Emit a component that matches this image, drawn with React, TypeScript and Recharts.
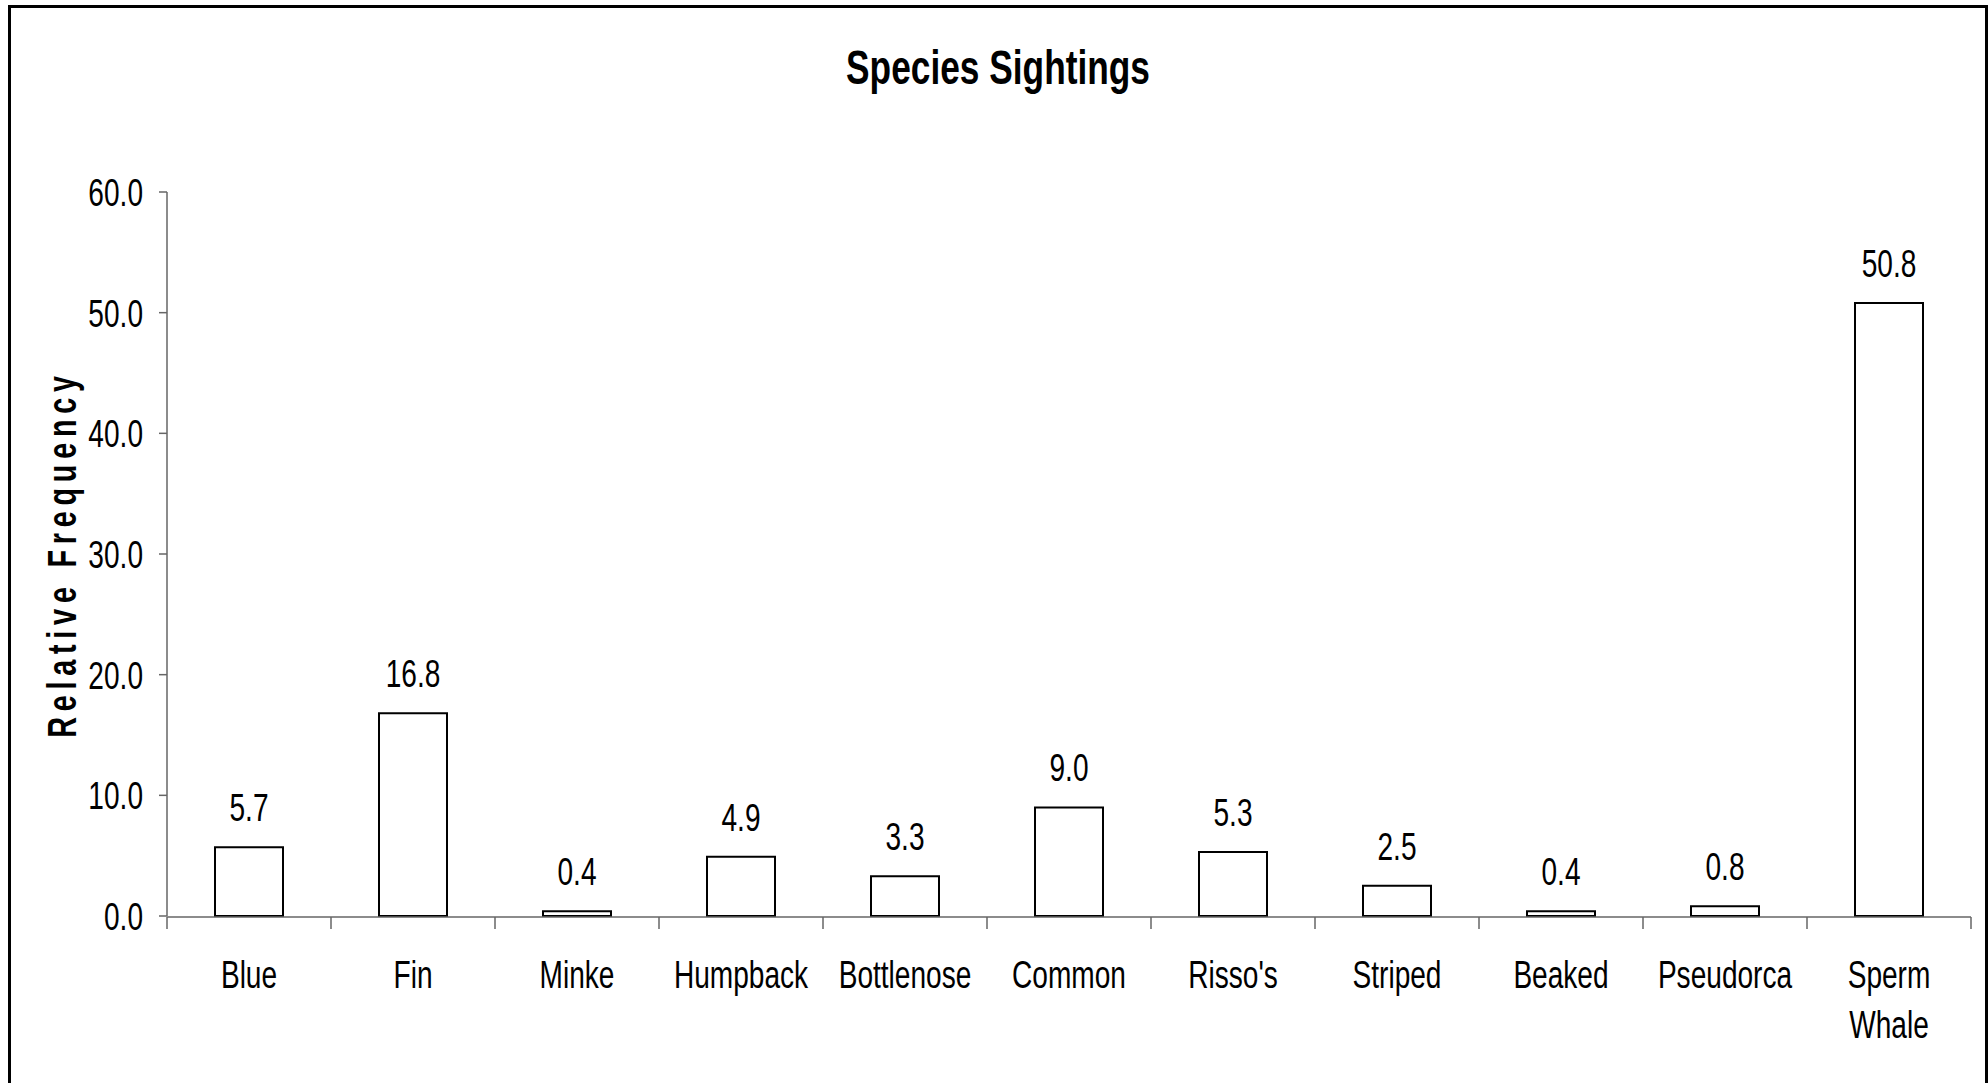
import { BarChart, Bar, XAxis, YAxis, LabelList } from 'recharts';

document.body.style.margin = '0';

const species = [
  'Blue',
  'Fin',
  'Minke',
  'Humpback',
  'Bottlenose',
  'Common',
  "Risso's",
  'Striped',
  'Beaked',
  'Pseudorca',
  'Sperm Whale',
];
const frequency = [5.7, 16.8, 0.4, 4.9, 3.3, 9.0, 5.3, 2.5, 0.4, 0.8, 50.8];
const yTicks = [0, 10, 20, 30, 40, 50, 60];

const data = species.map((name, i) => ({ name, value: frequency[i], slot: i }));
// category boundaries, where the excel-style tick marks sit
const edgeTicks = species.map((_, i) => i).concat(species.length);

const FONT = '"Liberation Sans", Arial, sans-serif';
const SQUEEZE = 0.72; // the original uses a narrow face
const AXIS = '#666';

function YTick({ x, y, payload }: any) {
  return (
    <text
      transform={`translate(${x},${y + 14}) scale(${SQUEEZE},1)`}
      textAnchor="end"
      fontFamily={FONT}
      fontSize={39}
      fill="#000"
    >
      {Number(payload.value).toFixed(1)}
    </text>
  );
}

function XTick({ x, y, payload }: any) {
  const lines = String(payload.value).split(' ');
  return (
    <text
      transform={`translate(${x},${y}) scale(${SQUEEZE},1)`}
      textAnchor="middle"
      fontFamily={FONT}
      fontSize={39}
      fill="#000"
    >
      {lines.map((line, i) => (
        <tspan key={i} x={0} dy={i === 0 ? 72 : 50}>
          {line}
        </tspan>
      ))}
    </text>
  );
}

function NoTick() {
  return null;
}

function ValueLabel({ x, y, width, value }: any) {
  return (
    <text
      transform={`translate(${x + width / 2},${y - 26}) scale(${SQUEEZE},1)`}
      textAnchor="middle"
      fontFamily={FONT}
      fontSize={39}
      fill="#000"
    >
      {Number(value).toFixed(1)}
    </text>
  );
}

function YLabel({ viewBox }: any) {
  const cx = viewBox.x + 76;
  const cy = viewBox.y + viewBox.height / 2;
  return (
    <text
      transform={`translate(${cx},${cy}) rotate(-90) scale(${SQUEEZE},1)`}
      textAnchor="middle"
      fontFamily={FONT}
      fontSize={40}
      fontWeight="bold"
      letterSpacing={8}
      fill="#000"
    >
      Relative Frequency
    </text>
  );
}

export default function App() {
  return (
    <div
      style={{
        position: 'relative',
        width: 1988,
        height: 1083,
        overflow: 'hidden',
        background: '#fff',
      }}
    >
      <div
        style={{
          position: 'absolute',
          left: 8,
          top: 5,
          width: 1980,
          height: 1200,
          border: '3px solid #000',
          boxSizing: 'border-box',
        }}
      />
      <div
        style={{
          position: 'absolute',
          left: 0,
          width: 1996,
          top: 43,
          textAlign: 'center',
          fontFamily: FONT,
          fontWeight: 'bold',
          fontSize: 49,
          lineHeight: 1,
        }}
      >
        <span style={{ display: 'inline-block', transform: `scaleX(${SQUEEZE})` }}>
          Species Sightings
        </span>
      </div>
      <div style={{ position: 'absolute', left: 0, top: 0 }}>
        <BarChart
          width={1988}
          height={1083}
          data={data}
          margin={{ top: 192, right: 17, bottom: 66, left: 0 }}
        >
          <XAxis
            xAxisId="cats"
            dataKey="name"
            height={1}
            interval={0}
            axisLine={false}
            tickLine={false}
            tickSize={0}
            tickMargin={0}
            tick={<XTick />}
          />
          <XAxis
            xAxisId="edges"
            type="number"
            dataKey="slot"
            domain={[0, species.length]}
            allowDataOverflow
            ticks={edgeTicks}
            interval={0}
            tick={<NoTick />}
            tickSize={12}
            height={100}
            axisLine={{ stroke: AXIS, strokeWidth: 1.5 }}
            tickLine={{ stroke: AXIS, strokeWidth: 1.5 }}
          />
          <YAxis
            width={167}
            domain={[0, 60]}
            ticks={yTicks}
            tickSize={8}
            tickMargin={16}
            tick={<YTick />}
            axisLine={{ stroke: AXIS, strokeWidth: 1.5 }}
            tickLine={{ stroke: AXIS, strokeWidth: 1.5 }}
            label={<YLabel />}
          />
          <Bar
            xAxisId="cats"
            dataKey="value"
            fill="#fff"
            stroke="#000"
            strokeWidth={2}
            barSize={68}
            isAnimationActive={false}
          >
            <LabelList dataKey="value" content={<ValueLabel />} />
          </Bar>
        </BarChart>
      </div>
    </div>
  );
}
